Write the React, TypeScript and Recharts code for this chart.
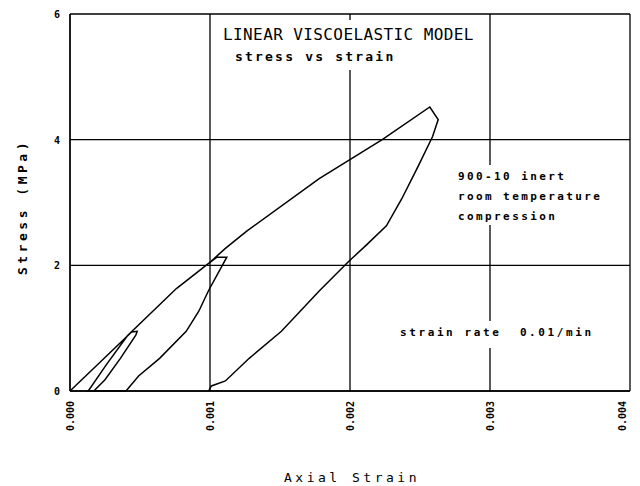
import { LineChart, Line, XAxis, YAxis, CartesianGrid } from 'recharts'

// strain / stress path in drawing order
const strain = [
  0, 0.00022, 0.00044, 0.00048,
  0.00047, 0.00036, 0.00025, 0.00017, 0.00013,
  0.00026, 0.00041, 0.00076, 0.00099, 0.00105, 0.00112,
  0.00099, 0.00092, 0.00083, 0.00064, 0.00049, 0.0004, 0.00013,
  0.00026, 0.00041, 0.00076, 0.00099, 0.00111, 0.00126, 0.00178, 0.00223, 0.00257, 0.00263,
  0.00259, 0.00249, 0.00237, 0.00226, 0.00212, 0.00199, 0.00178, 0.00151, 0.00128, 0.00111, 0.00101, 0.00099,
]
const stress = [
  0, 0.47, 0.94, 0.95,
  0.89, 0.52, 0.18, 0, 0,
  0.42, 0.88, 1.63, 2.03, 2.13, 2.13,
  1.6, 1.27, 0.95, 0.52, 0.24, 0, 0,
  0.42, 0.88, 1.63, 2.03, 2.27, 2.54, 3.38, 4.0, 4.52, 4.32,
  4.05, 3.59, 3.06, 2.63, 2.33, 2.06, 1.59, 0.95, 0.52, 0.16, 0.08, 0,
]
const xTicks = [0, 0.001, 0.002, 0.003, 0.004]
const yTicks = [0, 2, 4, 6]

const title = 'LINEAR VISCOELASTIC MODEL'
const subtitle = 'stress vs strain'
const specimen = ['900-10 inert', 'room temperature', 'compression']
const rateNote = 'strain rate  0.01/min'

const pathData = strain.map((x, i) => ({ x, y: stress[i] }))

const MONO = '"DejaVu Sans Mono", "Liberation Mono", monospace'

const XTick = ({ x, y, payload }: any) => (
  <text
    transform={`translate(${x},${y}) rotate(-90)`}
    textAnchor="end"
    dy={4}
    fontSize={10}
    fontWeight="bold"
    fontFamily={MONO}
    fill="#000"
  >
    {Number(payload.value).toFixed(3)}
  </text>
)

const YTick = ({ x, y, payload }: any) => (
  <text x={x} y={y} dy={4} textAnchor="end" fontSize={10} fontWeight="bold" fontFamily={MONO} fill="#000">
    {payload.value}
  </text>
)

const abs = (style: any) => ({ position: 'absolute' as const, ...style })

const App = () => {
  return (
    <div style={{ position: 'absolute', left: 0, top: 0, width: 640, height: 486, background: '#fff', fontFamily: MONO, color: '#000' }}>
      <LineChart width={640} height={486} data={pathData} margin={{ top: 14, right: 10, left: 40, bottom: 44 }}>
        <CartesianGrid stroke="#000" strokeWidth={1.3} />
        <XAxis
          dataKey="x"
          type="number"
          domain={[0, 0.004]}
          ticks={xTicks}
          height={51}
          tickSize={0}
          tickMargin={10}
          tick={<XTick />}
          axisLine={{ stroke: '#000', strokeWidth: 1.3 }}
          tickLine={false}
        />
        <YAxis
          type="number"
          domain={[0, 6]}
          ticks={yTicks}
          width={30}
          tickSize={0}
          tickMargin={10}
          tick={<YTick />}
          axisLine={{ stroke: '#000', strokeWidth: 1.3 }}
          tickLine={false}
        />
        <Line
          dataKey="y"
          type="linear"
          stroke="#000"
          strokeWidth={1.5}
          dot={false}
          isAnimationActive={false}
        />
      </LineChart>

      {/* white boxes behind the notes hide the grid, like the plotter did */}
      <div style={abs({ left: 215, top: 20, width: 262, height: 50, background: '#fff' })} />
      <div style={abs({ left: 450, top: 165, width: 165, height: 60, background: '#fff' })} />
      <div style={abs({ left: 395, top: 321, width: 205, height: 27, background: '#fff' })} />

      <div style={abs({ left: 223, top: 25, fontSize: 16, letterSpacing: 0.4, whiteSpace: 'nowrap', lineHeight: '20px' })}>{title}</div>
      <div style={abs({ left: 235, top: 48, fontSize: 13, fontWeight: 'bold', letterSpacing: 2.2, whiteSpace: 'nowrap', lineHeight: '18px' })}>{subtitle}</div>
      <div style={abs({ left: 458, top: 167, fontSize: 11, fontWeight: 'bold', letterSpacing: 2.4, whiteSpace: 'pre', lineHeight: '20px' })}>
        {specimen.join('\n')}
      </div>
      <div style={abs({ left: 400, top: 324, fontSize: 11, fontWeight: 'bold', letterSpacing: 2.6, whiteSpace: 'pre', lineHeight: '18px' })}>{rateNote}</div>

      <div style={abs({ left: 22, top: 207, transform: 'translate(-50%, -50%) rotate(-90deg)', fontSize: 13, fontWeight: 'bold', letterSpacing: 3.5, whiteSpace: 'nowrap' })}>
        Stress (MPa)
      </div>
      <div style={abs({ left: 352, top: 477, transform: 'translate(-50%, -50%)', fontSize: 13, letterSpacing: 3.5, whiteSpace: 'nowrap' })}>
        Axial Strain
      </div>
    </div>
  )
}

export default App
